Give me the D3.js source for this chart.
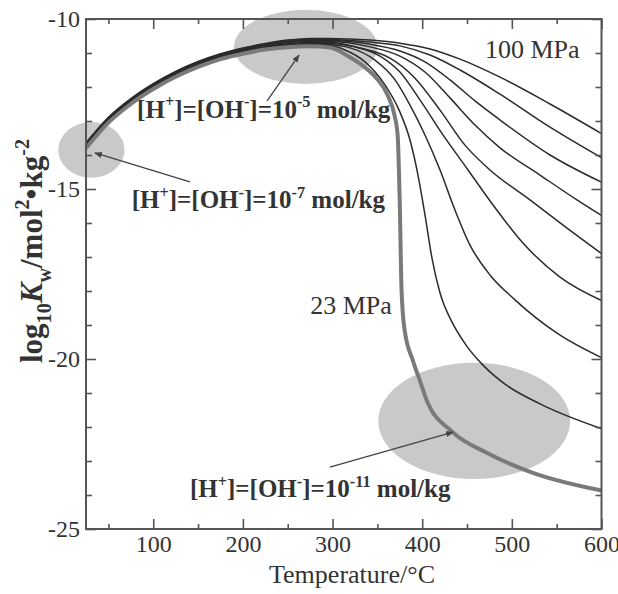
<!DOCTYPE html>
<html>
<head>
<meta charset="utf-8">
<script src="https://cdn.jsdelivr.net/npm/d3@7"></script>
<style>
  html, body { margin: 0; padding: 0; background: #fff; }
  svg { display: block; }
  text { font-family: "Liberation Serif", "DejaVu Serif", serif; fill: #333; white-space: pre; }
</style>
</head>
<body>
<div id="chart"></div>
<script>
// axis ticks
const tempMajor = [100, 200, 300, 400, 500, 600];
const tempMinor = [50, 150, 250, 350, 450, 550];
const kwMajor = [-10, -15, -20, -25];
const kwMinor = [-11, -12, -13, -14, -16, -17, -18, -19, -21, -22, -23, -24];

// log10 Kw vs temperature, 23 MPa isobar (thick grey)
const kw23 = [[25, -13.80], [50, -13.05], [75, -12.50], [100, -12.06], [125, -11.70], [150, -11.41],
    [175, -11.18], [200, -11.02], [225, -10.90], [250, -10.83], [275, -10.80], [297, -10.84],
    [319, -11.12], [335, -11.40], [349, -11.74], [361.5, -12.24], [369, -12.82], [372.6, -13.41],
    [374.9, -15.32], [377, -18.0], [380.4, -19.15], [389.4, -20.03], [397.2, -20.62], [405, -21.21],
    [434, -22.15], [472, -22.76], [523.5, -23.35], [600, -23.87]];

// higher pressure isobars, lowest to highest (top one is 100 MPa)
const iso1 = [[25, -13.78], [50, -13.03], [75, -12.48], [100, -12.04], [125, -11.68], [150, -11.39],
    [175, -11.16], [200, -10.99], [225, -10.87], [250, -10.80], [275, -10.77], [296, -10.78],
    [313.9, -10.91], [336.2, -11.26], [358.5, -11.94], [375.2, -12.74], [386.4, -13.56],
    [395.3, -14.59], [403.1, -15.76], [410.9, -17.03], [419.9, -18.06], [433.2, -18.91],
    [448.9, -19.59], [467.8, -20.18], [492.4, -20.74], [531.4, -21.32], [600, -22.05]];
const iso2 = [[25, -13.76], [50, -13.01], [75, -12.46], [100, -12.02], [125, -11.66], [150, -11.37],
    [175, -11.14], [200, -10.97], [225, -10.85], [250, -10.78], [275, -10.75], [296, -10.76],
    [319.5, -10.85], [347.3, -11.21], [369.7, -11.79], [386.4, -12.53], [403.1, -13.41],
    [419.9, -14.44], [436.6, -15.62], [453.3, -16.65], [475.6, -17.53], [503.5, -18.26],
    [550.4, -19.24], [600, -19.96]];
const iso3 = [[25, -13.74], [50, -12.99], [75, -12.44], [100, -12.00], [125, -11.64], [150, -11.35],
    [175, -11.12], [200, -10.95], [225, -10.83], [250, -10.76], [275, -10.72], [296, -10.72],
    [325, -10.82], [352.9, -11.09], [375.2, -11.56], [397.5, -12.38], [423.2, -13.41],
    [451.1, -14.44], [479, -15.47], [512.4, -16.59], [553.7, -17.59], [600, -18.28]];
const iso4 = [[25, -13.72], [50, -12.97], [75, -12.42], [100, -11.98], [125, -11.62], [150, -11.33],
    [175, -11.10], [200, -10.93], [225, -10.81], [250, -10.73], [275, -10.69], [296, -10.69],
    [330.6, -10.85], [364.1, -11.15], [392, -11.74], [419.9, -12.68], [447.7, -13.71],
    [475.6, -14.44], [520.2, -15.32], [561.5, -16.15], [600, -16.9]];
const iso5 = [[25, -13.70], [50, -12.95], [75, -12.40], [100, -11.96], [125, -11.60], [150, -11.31],
    [175, -11.08], [200, -10.91], [225, -10.78], [250, -10.70], [275, -10.66], [296, -10.66],
    [341.8, -10.82], [375.2, -11.09], [403.1, -11.56], [431, -12.32], [458.9, -13.12],
    [486.8, -13.79], [531.4, -14.59], [572.6, -15.32], [600, -15.78]];
const iso6 = [[25, -13.68], [50, -12.93], [75, -12.38], [100, -11.94], [125, -11.58], [150, -11.29],
    [175, -11.06], [200, -10.89], [225, -10.76], [250, -10.67], [275, -10.63], [296, -10.63],
    [341.8, -10.74], [375.2, -10.94], [403.1, -11.26], [431, -11.79], [458.9, -12.41],
    [486.8, -12.97], [542.6, -14.0], [600, -14.8]];
const iso7 = [[25, -13.66], [50, -12.91], [75, -12.36], [100, -11.92], [125, -11.56], [150, -11.27],
    [175, -11.04], [200, -10.87], [225, -10.74], [250, -10.65], [275, -10.60], [296, -10.60],
    [341.8, -10.68], [375.2, -10.79], [408.7, -11.06], [442.2, -11.5], [486.8, -12.21],
    [542.6, -13.18], [600, -14.08]];
const iso100 = [[25, -13.64], [50, -12.89], [75, -12.34], [100, -11.90], [125, -11.54], [150, -11.25],
    [175, -11.02], [200, -10.85], [225, -10.72], [250, -10.62], [275, -10.57], [296, -10.57],
    [341.8, -10.62], [375.2, -10.71], [408.7, -10.88], [442.2, -11.18], [486.8, -11.71],
    [542.6, -12.5], [600, -13.37]];
const thinCurves = [iso1, iso2, iso3, iso4, iso5, iso6, iso7, iso100];

// grey highlight ellipses: [T centre, logKw centre, T radius, logKw radius]
const blobs = [[270, -10.82, 80, 1.09], [31, -13.85, 37, 0.82], [458, -21.82, 107, 1.71]];

// labels with leader arrows: text anchor, arrow tail, arrow tip (T, logKw)
const notes = [
    { exp: '-5', at: [82, -12.91], from: [227, -12.41], to: [262.6, -11.06] },
    { exp: '-7', at: [76, -15.56], from: [141, -14.79], to: [35, -13.94] },
    { exp: '-11', at: [141, -24.06], from: [297, -23.18], to: [434.4, -22.15] }
];
const pressureLabels = [['100 MPa', 470, -11.15], ['23 MPa', 275, -18.68]];

const W = 618, H = 594;
const x = d3.scaleLinear().domain([25, 600]).range([86, 601.5]);
const y = d3.scaleLinear().domain([-10, -25]).range([19, 529]);

const svg = d3.select('#chart').append('svg')
    .attr('width', W)
    .attr('height', H);

svg.append('defs').append('marker')
    .attr('id', 'arr')
    .attr('viewBox', '0 0 10 10')
    .attr('refX', 9).attr('refY', 5)
    .attr('markerWidth', 6).attr('markerHeight', 6)
    .attr('orient', 'auto')
    .append('path')
    .attr('d', 'M0,1 L10,5 L0,9 Z')
    .attr('fill', '#444');

svg.selectAll('ellipse')
    .data(blobs)
    .enter()
    .append('ellipse')
    .attr('cx', d => x(d[0]))
    .attr('cy', d => y(d[1]))
    .attr('rx', d => x(d[0] + d[2]) - x(d[0]))
    .attr('ry', d => y(d[1] - d[3]) - y(d[1]))
    .attr('fill', '#c9c9c9');

const line = d3.line()
    .x(d => x(d[0]))
    .y(d => y(d[1]))
    .curve(d3.curveMonotoneX);

svg.selectAll('.thin')
    .data(thinCurves)
    .enter()
    .append('path')
    .attr('class', 'thin')
    .attr('d', line)
    .attr('fill', 'none')
    .attr('stroke', '#2b2b2b')
    .attr('stroke-width', 1.5);

svg.append('path')
    .datum(kw23)
    .attr('d', line)
    .attr('fill', 'none')
    .attr('stroke', '#7a7a7a')
    .attr('stroke-width', 4);

// frame and inward ticks
svg.append('rect')
    .attr('x', x(25)).attr('y', y(-10))
    .attr('width', x(600) - x(25)).attr('height', y(-25) - y(-10))
    .attr('fill', 'none')
    .attr('stroke', '#555')
    .attr('stroke-width', 2);

function ticks(axis, values, size, labels, tx, ty) {
    const g = svg.append('g')
        .attr('transform', `translate(${tx},${ty})`)
        .call(axis.tickValues(values).tickSize(-size).tickPadding(labels ? 6 : 0)
            .tickFormat(labels ? (d => String(d)) : () => ''));
    g.select('.domain').remove();
    g.selectAll('line').attr('stroke', '#555').attr('stroke-width', 1.6);
    g.selectAll('text').attr('font-size', 24).attr('fill', '#333')
        .style('font-family', '"Liberation Serif", serif');
    return g;
}
ticks(d3.axisBottom(x), tempMajor, 10, true, 0, y(-25));
ticks(d3.axisBottom(x), tempMinor, 5, false, 0, y(-25));
ticks(d3.axisTop(x), tempMajor, 10, false, 0, y(-10));
ticks(d3.axisTop(x), tempMinor, 5, false, 0, y(-10));
ticks(d3.axisLeft(y), kwMajor, 10, true, x(25), 0);
ticks(d3.axisLeft(y), kwMinor, 6, false, x(25), 0);
ticks(d3.axisRight(y), kwMajor, 10, false, x(600), 0);
ticks(d3.axisRight(y), kwMinor, 6, false, x(600), 0);

// text with super/subscripts
function rich(sel, parts, size) {
    let shift = 0;
    parts.forEach(p => {
        const target = p.sup ? -0.42 * size : p.sub ? 0.28 * size : 0;
        sel.append('tspan')
            .attr('dy', target - shift)
            .attr('font-size', p.sup || p.sub ? size * 0.65 : size)
            .attr('font-style', p.it ? 'italic' : null)
            .text(p.t);
        shift = target;
    });
}

svg.selectAll('.lead')
    .data(notes)
    .enter()
    .append('line')
    .attr('class', 'lead')
    .attr('x1', d => x(d.from[0])).attr('y1', d => y(d.from[1]))
    .attr('x2', d => x(d.to[0])).attr('y2', d => y(d.to[1]))
    .attr('stroke', '#444')
    .attr('stroke-width', 1.3)
    .attr('marker-end', 'url(#arr)');

notes.forEach(n => {
    const t = svg.append('text')
        .attr('x', x(n.at[0]))
        .attr('y', y(n.at[1]))
        .attr('font-weight', 'bold')
        .attr('fill', '#3a3a3a');
    rich(t, [{ t: '[H' }, { t: '+', sup: true }, { t: ']=[OH' }, { t: '-', sup: true },
        { t: ']=10' }, { t: n.exp, sup: true }, { t: ' mol/kg' }], 25);
});

svg.selectAll('.plabel')
    .data(pressureLabels)
    .enter()
    .append('text')
    .attr('class', 'plabel')
    .attr('x', d => x(d[1]))
    .attr('y', d => y(d[2]))
    .attr('font-size', 26)
    .text(d => d[0]);

svg.append('text')
    .attr('x', 352)
    .attr('y', 583)
    .attr('text-anchor', 'middle')
    .attr('font-size', 26)
    .text('Temperature/°C');

const yl = svg.append('text')
    .attr('transform', 'translate(42,251) rotate(-90)')
    .attr('text-anchor', 'middle')
    .attr('font-weight', 'bold');
rich(yl, [{ t: 'log' }, { t: '10', sub: true }, { t: 'K', it: true }, { t: 'w', sub: true },
    { t: '/mol' }, { t: '2', sup: true }, { t: '•kg' }, { t: '-2', sup: true }], 31);
</script>
</body>
</html>
